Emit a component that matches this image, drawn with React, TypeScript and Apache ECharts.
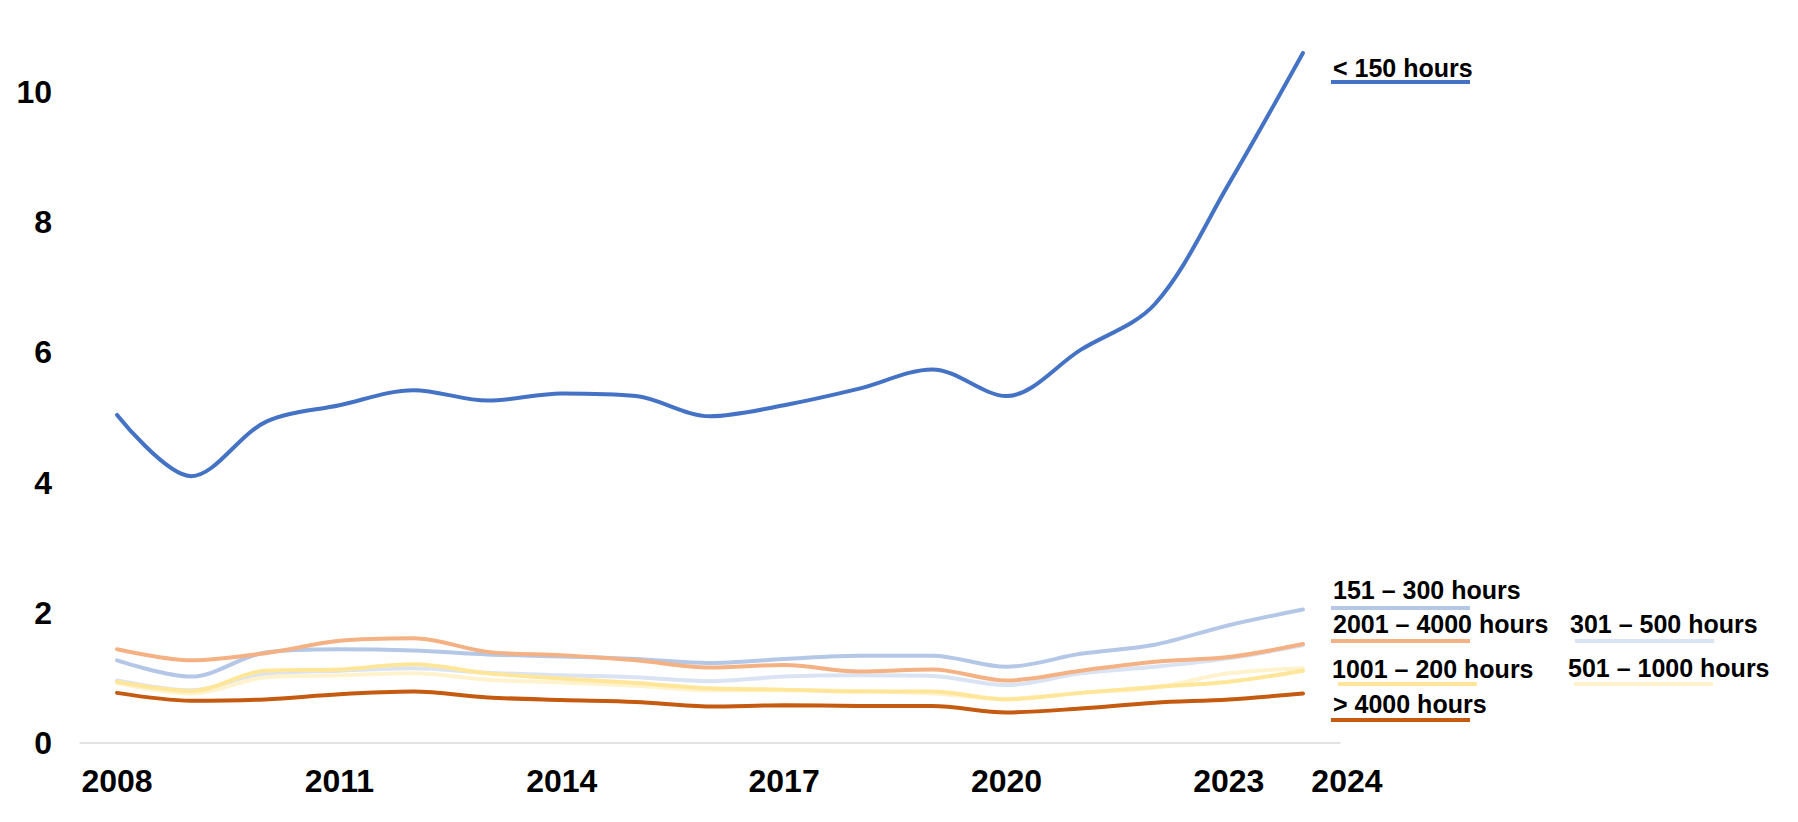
import React, { useEffect, useRef } from "react";
import * as echarts from "echarts";

const years = ["2008", "2009", "2010", "2011", "2012", "2013", "2014", "2015", "2016", "2017", "2018", "2019", "2020", "2021", "2022", "2023", "2024"];

const yTicks = [0, 2, 4, 6, 8, 10];

const under150 = [5.04, 4.1, 4.93, 5.19, 5.42, 5.26, 5.37, 5.33, 5.02, 5.19, 5.44, 5.74, 5.33, 6.04, 6.74, 8.59, 10.6];
const h151to300 = [1.27, 1.02, 1.39, 1.44, 1.42, 1.36, 1.33, 1.29, 1.23, 1.29, 1.34, 1.34, 1.17, 1.37, 1.51, 1.81, 2.05];
const h301to500 = [0.96, 0.81, 1.06, 1.11, 1.15, 1.08, 1.04, 1.01, 0.95, 1.02, 1.04, 1.03, 0.89, 1.07, 1.17, 1.3, 1.5];
const h501to1000 = [0.92, 0.76, 1.01, 1.04, 1.07, 0.97, 0.93, 0.88, 0.81, 0.81, 0.8, 0.76, 0.68, 0.77, 0.85, 1.07, 1.15];
const h1001to2000 = [0.94, 0.8, 1.11, 1.13, 1.21, 1.07, 0.99, 0.92, 0.84, 0.82, 0.79, 0.79, 0.67, 0.77, 0.86, 0.94, 1.11];
const h2001to4000 = [1.44, 1.27, 1.38, 1.57, 1.61, 1.4, 1.35, 1.27, 1.16, 1.2, 1.1, 1.13, 0.96, 1.11, 1.25, 1.32, 1.52];
const over4000 = [0.77, 0.65, 0.67, 0.75, 0.79, 0.7, 0.66, 0.63, 0.56, 0.58, 0.57, 0.57, 0.47, 0.53, 0.62, 0.67, 0.76];

const seriesNames = ["< 150 hours", "151 – 300 hours", "301 – 500 hours", "501 – 1000 hours", "1001 – 200 hours", "2001 – 4000 hours", "> 4000 hours"];
const seriesData = [under150, h151to300, h301to500, h501to1000, h1001to2000, h2001to4000, over4000];
const seriesColors = ["#4472C4", "#B4C7E7", "#DAE3F3", "#FFF2CC", "#FFE699", "#F4B183", "#C55A11"];
// drawing order (back to front)
const drawOrder = [2, 3, 1, 4, 5, 6, 0];

// legend layout: [series index, text x, text y, line x, line y]
const legendLayout: [number, number, number, number, number][] = [
  [0, 1333, 68, 1331, 80],
  [1, 1333, 590, 1331, 606],
  [5, 1333, 624, 1331, 639],
  [2, 1570, 624, 1575, 639],
  [4, 1332, 669, 1338, 682],
  [3, 1568, 668, 1574, 682],
  [6, 1333, 704, 1331, 718],
];

const FONT = '"Liberation Sans", Arial, sans-serif';

export default function App() {
  const ref = useRef<HTMLDivElement>(null);

  useEffect(() => {
    document.body.style.margin = "0";
    const chart = echarts.init(ref.current!, null, { renderer: "svg" });

    const graphics: any[] = [];
    legendLayout.forEach(([si, tx, ty, lx, ly]) => {
      graphics.push({
        type: "text",
        x: tx,
        y: ty,
        style: {
          text: seriesNames[si],
          fill: "#000000",
          fontSize: 25,
          fontWeight: "bold",
          fontFamily: FONT,
          verticalAlign: "middle",
          align: "left",
        },
      });
      graphics.push({
        type: "rect",
        shape: { x: lx, y: ly, width: 139, height: 4 },
        style: { fill: seriesColors[si] },
      });
    });

    chart.setOption({
      animation: false,
      backgroundColor: "#ffffff",
      grid: { left: 80, right: 458, top: 27, bottom: 79, containLabel: false },
      xAxis: {
        type: "category",
        data: years,
        boundaryGap: true,
        axisLine: { show: true, lineStyle: { color: "#D9D9D9", width: 1.5 } },
        axisTick: { show: false },
        splitLine: { show: false },
        axisLabel: {
          interval: (index: number) => index % 3 === 0 || index === years.length - 1,
          formatter: (v: string, i: number) => (i === years.length - 1 ? "{s|" + v + "}" : v),
          color: "#000000",
          fontSize: 32,
          fontWeight: "bold",
          fontFamily: FONT,
          margin: 22,
          rich: {
            s: {
              color: "#000000",
              fontSize: 32,
              fontWeight: "bold",
              fontFamily: FONT,
              padding: [0, 0, 0, 88],
            },
          },
        },
      },
      yAxis: {
        type: "value",
        min: 0,
        max: 11,
        interval: 2,
        axisLine: { show: false },
        axisTick: { show: false },
        splitLine: { show: false },
        axisLabel: {
          formatter: (v: number) => (yTicks.indexOf(v) >= 0 ? String(v) : ""),
          color: "#000000",
          fontSize: 32,
          fontWeight: "bold",
          fontFamily: FONT,
          margin: 28,
        },
      },
      series: drawOrder.map((si) => ({
        type: "line",
        name: seriesNames[si],
        data: seriesData[si],
        smooth: 0.33,
        showSymbol: false,
        symbol: "none",
        lineStyle: { color: seriesColors[si], width: 4, cap: "round" },
        itemStyle: { color: seriesColors[si] },
        z: 2 + drawOrder.indexOf(si),
      })),
      graphic: graphics,
    });

    return () => chart.dispose();
  }, []);

  return <div ref={ref} style={{ width: 1798, height: 822 }} />;
}
